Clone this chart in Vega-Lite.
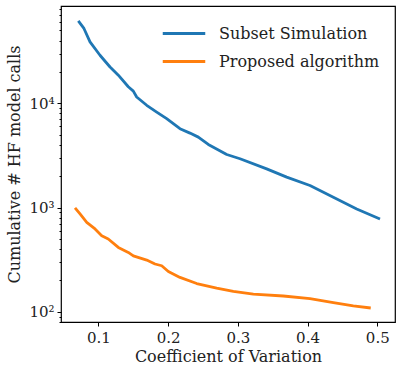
{
  "$schema": "https://vega.github.io/schema/vega-lite/v6.json",
  "width": 334,
  "height": 316,
  "autosize": {"type": "none"},
  "padding": {"left": 61, "top": 6, "right": 7, "bottom": 52},
  "config": {
    "view": {"stroke": "black", "strokeWidth": 1.2},
    "font": "DejaVu Serif, serif",
    "axis": {"labelFont": "DejaVu Serif, serif", "titleFont": "DejaVu Serif, serif", "labelColor": "#222", "titleColor": "#222", "titleFontWeight": "normal", "grid": false, "domainColor": "black", "tickColor": "black"},
    "legend": {"labelFont": "DejaVu Serif, serif"}
  },
  "data": {"values": [
    {"cov": 0.0713, "calls": 61800, "method": "Subset Simulation"},
    {"cov": 0.0794, "calls": 52200, "method": "Subset Simulation"},
    {"cov": 0.0881, "calls": 38800, "method": "Subset Simulation"},
    {"cov": 0.1024, "calls": 28900, "method": "Subset Simulation"},
    {"cov": 0.1168, "calls": 22300, "method": "Subset Simulation"},
    {"cov": 0.1287, "calls": 18600, "method": "Subset Simulation"},
    {"cov": 0.143, "calls": 14400, "method": "Subset Simulation"},
    {"cov": 0.1502, "calls": 13100, "method": "Subset Simulation"},
    {"cov": 0.155, "calls": 11500, "method": "Subset Simulation"},
    {"cov": 0.1694, "calls": 9570, "method": "Subset Simulation"},
    {"cov": 0.1837, "calls": 8240, "method": "Subset Simulation"},
    {"cov": 0.198, "calls": 7130, "method": "Subset Simulation"},
    {"cov": 0.2171, "calls": 5710, "method": "Subset Simulation"},
    {"cov": 0.2314, "calls": 5180, "method": "Subset Simulation"},
    {"cov": 0.2434, "calls": 4740, "method": "Subset Simulation"},
    {"cov": 0.2577, "calls": 4030, "method": "Subset Simulation"},
    {"cov": 0.2841, "calls": 3230, "method": "Subset Simulation"},
    {"cov": 0.3032, "calls": 2940, "method": "Subset Simulation"},
    {"cov": 0.3414, "calls": 2350, "method": "Subset Simulation"},
    {"cov": 0.3701, "calls": 1960, "method": "Subset Simulation"},
    {"cov": 0.4035, "calls": 1630, "method": "Subset Simulation"},
    {"cov": 0.437, "calls": 1260, "method": "Subset Simulation"},
    {"cov": 0.4705, "calls": 971, "method": "Subset Simulation"},
    {"cov": 0.5039, "calls": 778, "method": "Subset Simulation"},
    {"cov": 0.0666, "calls": 993, "method": "Proposed algorithm"},
    {"cov": 0.0738, "calls": 869, "method": "Proposed algorithm"},
    {"cov": 0.0834, "calls": 722, "method": "Proposed algorithm"},
    {"cov": 0.0953, "calls": 624, "method": "Proposed algorithm"},
    {"cov": 0.1049, "calls": 538, "method": "Proposed algorithm"},
    {"cov": 0.1143, "calls": 500, "method": "Proposed algorithm"},
    {"cov": 0.1287, "calls": 415, "method": "Proposed algorithm"},
    {"cov": 0.143, "calls": 372, "method": "Proposed algorithm"},
    {"cov": 0.1502, "calls": 345, "method": "Proposed algorithm"},
    {"cov": 0.1694, "calls": 314, "method": "Proposed algorithm"},
    {"cov": 0.1813, "calls": 288, "method": "Proposed algorithm"},
    {"cov": 0.1909, "calls": 277, "method": "Proposed algorithm"},
    {"cov": 0.2004, "calls": 244, "method": "Proposed algorithm"},
    {"cov": 0.2171, "calls": 214, "method": "Proposed algorithm"},
    {"cov": 0.2411, "calls": 187, "method": "Proposed algorithm"},
    {"cov": 0.2697, "calls": 169, "method": "Proposed algorithm"},
    {"cov": 0.2936, "calls": 157, "method": "Proposed algorithm"},
    {"cov": 0.3223, "calls": 148, "method": "Proposed algorithm"},
    {"cov": 0.3653, "calls": 142, "method": "Proposed algorithm"},
    {"cov": 0.4035, "calls": 134, "method": "Proposed algorithm"},
    {"cov": 0.437, "calls": 123, "method": "Proposed algorithm"},
    {"cov": 0.4656, "calls": 114, "method": "Proposed algorithm"},
    {"cov": 0.4906, "calls": 109, "method": "Proposed algorithm"}
  ]},
  "mark": {"type": "line", "strokeWidth": 2.8, "strokeJoin": "round"},
  "encoding": {
    "x": {
      "field": "cov", "type": "quantitative",
      "scale": {"domain": [0.0465, 0.5254], "nice": false, "zero": false},
      "axis": {"title": "Coefficient of Variation", "values": [0.1, 0.2, 0.3, 0.4, 0.5], "format": ".1f", "labelFontSize": 15, "titleFontSize": 16, "tickSize": 4, "labelPadding": 4, "titlePadding": 3, "domain": false, "labelFlush": false}
    },
    "y": {
      "field": "calls", "type": "quantitative",
      "scale": {"type": "log", "domain": [80, 85700], "nice": false},
      "axis": {
        "title": "Cumulative # HF model calls",
        "values": [80, 90, 100, 200, 300, 400, 500, 600, 700, 800, 900, 1000, 2000, 3000, 4000, 5000, 6000, 7000, 8000, 9000, 10000, 20000, 30000, 40000, 50000, 60000, 70000, 80000],
        "labelExpr": "datum.value == 100 ? '10²' : datum.value == 1000 ? '10³' : datum.value == 10000 ? '10⁴' : ''",
        "tickSize": {"condition": {"test": "datum.value == 100 || datum.value == 1000 || datum.value == 10000", "value": 4}, "value": 2},
        "labelFontSize": 15, "titleFontSize": 16, "labelPadding": 3, "titlePadding": 6, "domain": false
      }
    },
    "color": {
      "field": "method", "type": "nominal",
      "scale": {"domain": ["Subset Simulation", "Proposed algorithm"], "range": ["#1f77b4", "#ff7f0e"]},
      "legend": {
        "title": null, "orient": "none", "legendX": 113, "legendY": 17.5,
        "symbolType": "M-2.5,0H2.5", "symbolSize": 289, "symbolStrokeWidth": 2.8,
        "labelFont": "DejaVu Serif, serif",
        "labelFontSize": 16, "labelOffset": 25, "labelLimit": 300, "rowPadding": 10, "padding": 0, "labelColor": "#222"
      }
    }
  }
}
